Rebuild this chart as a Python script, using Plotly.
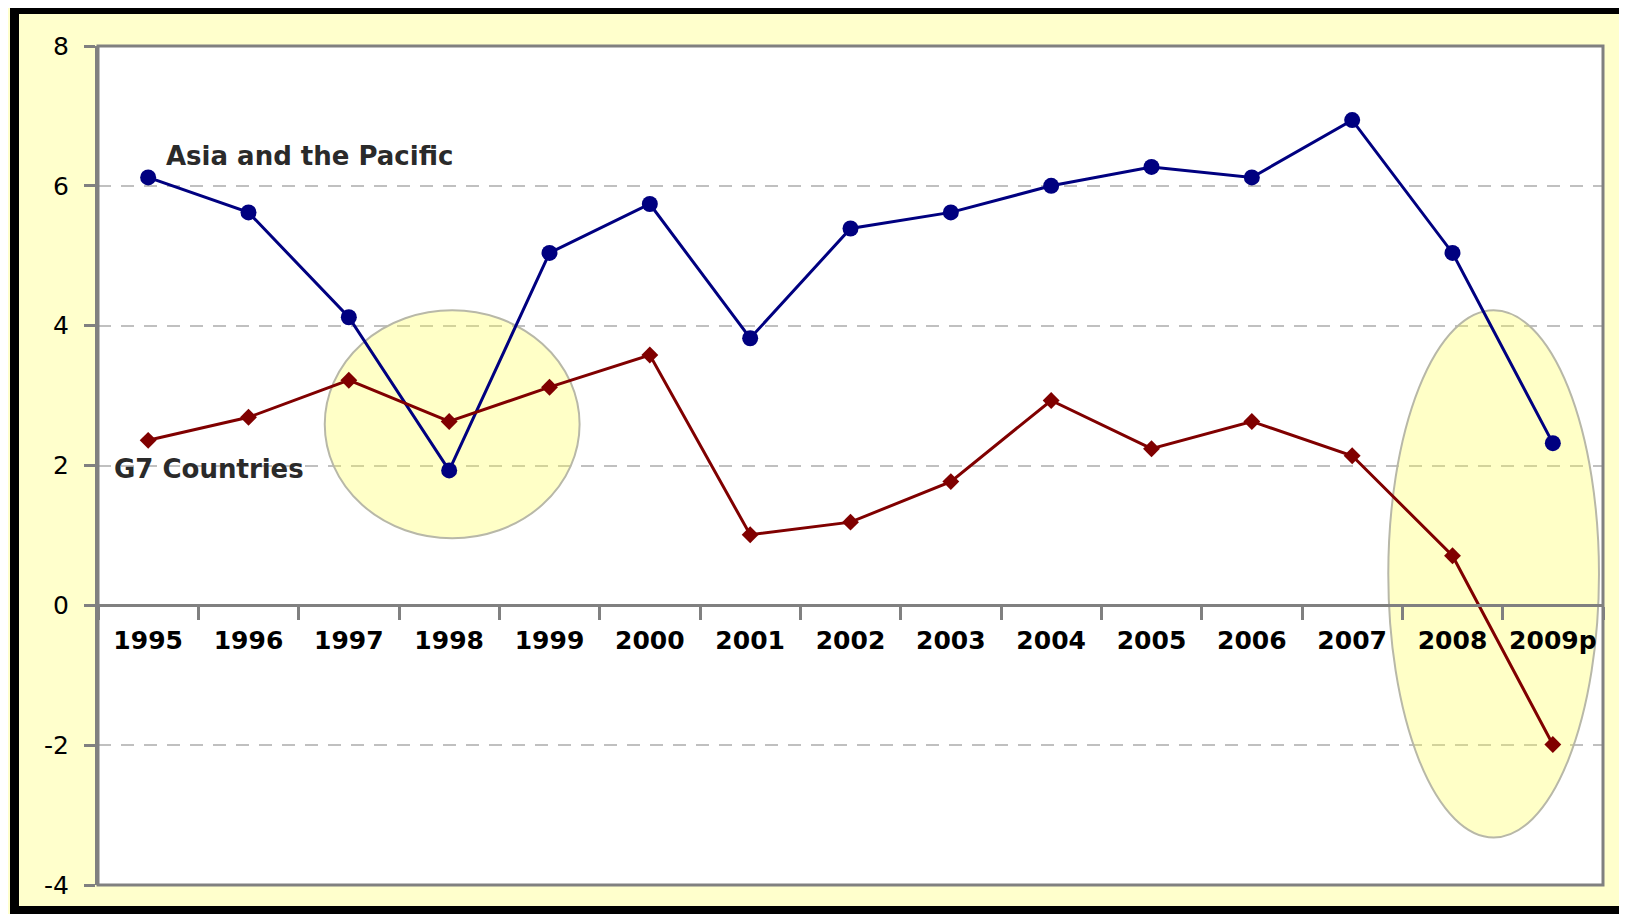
import plotly.graph_objects as go

years = ["1995", "1996", "1997", "1998", "1999", "2000", "2001", "2002",
         "2003", "2004", "2005", "2006", "2007", "2008", "2009p"]
asia_pacific = [6.12, 5.62, 4.12, 1.93, 5.04, 5.74, 3.82, 5.39,
                5.62, 6.00, 6.27, 6.12, 6.94, 5.04, 2.32]
g7_countries = [2.36, 2.69, 3.22, 2.63, 3.12, 3.58, 1.01, 1.19,
                1.77, 2.93, 2.24, 2.63, 2.14, 0.71, -1.99]
y_ticks = [-4, -2, 0, 2, 4, 6, 8]

# figure sits inside the page body (8px default margin)
W, H = 1611, 906
L, R, T, B = 90, 16, 38, 29
PW, PH = W - L - R, H - T - B


def px_x(p):
    return (p - L) / PW


def px_y(p):
    return (H - B - p) / PH


fig = go.Figure()

fig.add_trace(go.Scatter(
    x=years, y=asia_pacific, mode="lines+markers", name="Asia and the Pacific",
    line=dict(color="#000080", width=3),
    marker=dict(color="#000080", size=16, symbol="circle"),
    showlegend=False,
))
fig.add_trace(go.Scatter(
    x=years, y=g7_countries, mode="lines+markers", name="G7 Countries",
    line=dict(color="#800000", width=3),
    marker=dict(color="#800000", size=13, symbol="diamond"),
    showlegend=False,
))

frame = dict(xref="paper", yref="paper", type="line", layer="above")
shapes = [
    # outer black frame: left, top, bottom edges
    dict(frame, x0=px_x(6.5), x1=px_x(6.5), y0=px_y(906), y1=px_y(0),
         line=dict(color="black", width=9)),
    dict(frame, x0=px_x(2), x1=px_x(W), y0=px_y(2), y1=px_y(2),
         line=dict(color="black", width=8)),
    dict(frame, x0=px_x(2), x1=px_x(W), y0=px_y(902), y1=px_y(902),
         line=dict(color="black", width=8)),
    # highlight ellipses
    dict(type="circle", xref="x", yref="y", x0=1.76, x1=4.30, y0=0.96, y1=4.22,
         fillcolor="rgba(255,255,70,0.30)", line=dict(color="#B8B8A8", width=2),
         layer="between"),
    dict(type="circle", xref="x", yref="y", x0=12.36, x1=14.46, y0=-3.32, y1=4.22,
         fillcolor="rgba(255,255,70,0.30)", line=dict(color="#B8B8A8", width=2),
         layer="between"),
    # plot area border
    dict(type="rect", xref="paper", yref="paper", x0=0, x1=1, y0=0, y1=1,
         line=dict(color="#808080", width=3), layer="above"),
]

annotations = [
    dict(x=0.16, y=6.42, xref="x", yref="y", text="<b>Asia and the Pacific</b>",
         showarrow=False, xanchor="left", yanchor="middle",
         font=dict(family="DejaVu Sans", size=26, color="#2a2a2a")),
    dict(x=-0.36, y=1.95, xref="x", yref="y", text="<b>G7 Countries</b>",
         showarrow=False, xanchor="left", yanchor="middle",
         font=dict(family="DejaVu Sans", size=26, color="#2a2a2a")),
]

fig.update_layout(
    width=W, height=H,
    margin=dict(l=L, r=R, t=T, b=B, pad=0),
    paper_bgcolor="#FFFFCC",
    plot_bgcolor="white",
    shapes=shapes,
    annotations=annotations,
    xaxis=dict(
        type="category", categoryorder="array", categoryarray=years,
        range=[-0.5, 14.5], anchor="free", position=1/3,
        showline=True, linecolor="#808080", linewidth=3,
        ticks="outside", tickson="boundaries", ticklen=13, tickwidth=3,
        tickcolor="#808080", showgrid=False, zeroline=False,
        tickfont=dict(family="DejaVu Sans", size=25, color="black", weight="bold"),
        ticklabelstandoff=12,
    ),
    yaxis=dict(
        range=[-4, 8], tickvals=y_ticks, ticktext=[str(v) for v in y_ticks],
        showline=True, linecolor="#808080", linewidth=3,
        ticks="outside", ticklen=11, tickwidth=3, tickcolor="#808080",
        showgrid=True, gridcolor="#C0C0C0", gridwidth=2, griddash="13px,10px",
        zeroline=False,
        tickfont=dict(family="DejaVu Sans", size=25, color="black"),
        ticklabelstandoff=10,
    ),
)

fig.write_html("out.html")
